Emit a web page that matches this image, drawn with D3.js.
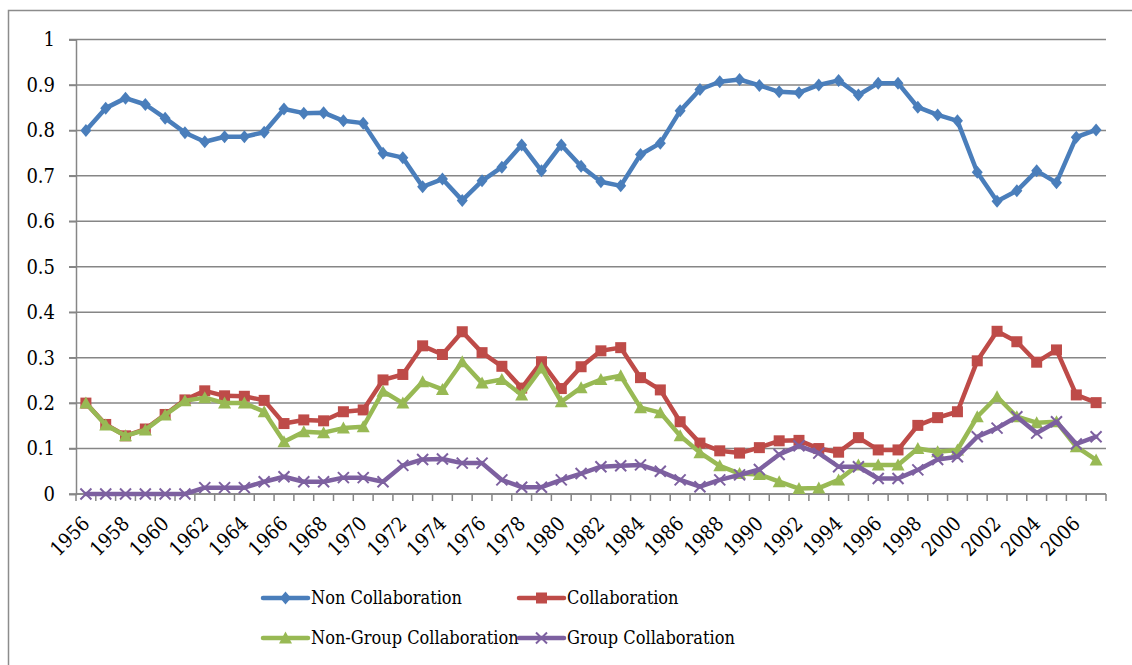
<!DOCTYPE html>
<html>
<head>
<meta charset="utf-8">
<script src="https://cdn.jsdelivr.net/npm/d3@7"></script>
<style>
  body { margin: 0; background: #fff; }
  svg text { font-family: "DejaVu Serif Condensed", "DejaVu Serif", serif; font-stretch: condensed; }
</style>
</head>
<body>
<div class="chart"></div>
<script>
// years on the category axis
var years = d3.range(1956, 2008);

var nonCollab = [0.80, 0.849, 0.871, 0.857, 0.827, 0.795, 0.775, 0.786, 0.786, 0.796,
  0.847, 0.838, 0.839, 0.821, 0.816, 0.750, 0.740, 0.676, 0.693, 0.646,
  0.689, 0.719, 0.768, 0.711, 0.768, 0.721, 0.687, 0.678, 0.747, 0.772,
  0.843, 0.890, 0.907, 0.912, 0.899, 0.885, 0.883, 0.900, 0.910, 0.878,
  0.904, 0.904, 0.851, 0.834, 0.821, 0.708, 0.644, 0.667, 0.711, 0.685,
  0.785, 0.801];
var collab = [0.20, 0.153, 0.128, 0.143, 0.175, 0.207, 0.227, 0.216, 0.215, 0.206,
  0.155, 0.163, 0.161, 0.181, 0.185, 0.251, 0.263, 0.326, 0.307, 0.357,
  0.311, 0.281, 0.233, 0.291, 0.232, 0.280, 0.315, 0.322, 0.256, 0.229,
  0.159, 0.112, 0.095, 0.090, 0.102, 0.117, 0.118, 0.100, 0.092, 0.124,
  0.097, 0.097, 0.151, 0.168, 0.181, 0.293, 0.358, 0.335, 0.290, 0.317,
  0.218, 0.201];
var nonGroupCollab = [0.20, 0.152, 0.128, 0.141, 0.174, 0.205, 0.212, 0.200, 0.200, 0.181,
  0.115, 0.137, 0.135, 0.145, 0.148, 0.226, 0.200, 0.247, 0.230, 0.291,
  0.244, 0.252, 0.218, 0.277, 0.203, 0.234, 0.252, 0.260, 0.190, 0.179,
  0.128, 0.091, 0.062, 0.045, 0.043, 0.027, 0.012, 0.013, 0.031, 0.064,
  0.064, 0.064, 0.100, 0.093, 0.097, 0.170, 0.214, 0.170, 0.157, 0.159,
  0.104, 0.075];
var groupCollab = [0, 0, 0, 0, 0, 0, 0.014, 0.014, 0.014, 0.027,
  0.038, 0.027, 0.027, 0.036, 0.036, 0.027, 0.063, 0.076, 0.077, 0.068,
  0.068, 0.031, 0.015, 0.015, 0.031, 0.045, 0.060, 0.062, 0.064, 0.050,
  0.031, 0.016, 0.031, 0.042, 0.054, 0.087, 0.106, 0.090, 0.060, 0.060,
  0.034, 0.034, 0.053, 0.076, 0.082, 0.126, 0.145, 0.170, 0.134, 0.159,
  0.110, 0.126];

var yTicks = [0, 0.1, 0.2, 0.3, 0.4, 0.5, 0.6, 0.7, 0.8, 0.9, 1];
var xLabels = years.filter(function (d) { return d % 2 === 0; });

var seriesNames = ["Non Collaboration", "Collaboration", "Non-Group Collaboration", "Group Collaboration"];
var seriesValues = [nonCollab, collab, nonGroupCollab, groupCollab];
var seriesColors = ["#4A7EBB", "#BE4B48", "#98B954", "#7D60A0"];
var seriesMarkers = ["diamond", "square", "triangle", "cross"];

var W = 1132, H = 665;
var margin = { top: 39.5, left: 76, right: 26, bottom: 171 };
var width = W - margin.left - margin.right;
var height = H - margin.top - margin.bottom;

var svg = d3.select(".chart").append("svg")
  .attr("width", W)
  .attr("height", H)
  .style("display", "block");

// outer chart border (runs off the picture on right and bottom)
svg.append("rect")
  .attr("x", 8.5).attr("y", 10.5)
  .attr("width", 1200).attr("height", 800)
  .attr("fill", "none")
  .attr("stroke", "#8c8c8c")
  .attr("stroke-width", 1.5);

var g = svg.append("g")
  .attr("transform", "translate(" + margin.left + "," + margin.top + ")");

var x = d3.scaleBand().domain(years).range([0, width]);
var y = d3.scaleLinear().domain([0, 1]).range([height, 0]);

// gridlines
g.append("g")
  .selectAll("line")
  .data(yTicks)
  .enter()
  .append("line")
  .attr("x1", -7).attr("x2", width)
  .attr("y1", function (d) { return y(d); })
  .attr("y2", function (d) { return y(d); })
  .attr("stroke", "#868686")
  .attr("stroke-width", 1.5);

// y axis
var yAxis = g.append("g")
  .call(d3.axisLeft(y).tickValues(yTicks).tickSize(7).tickPadding(14).tickFormat(function (d) { return String(d); }));
yAxis.attr("font-family", null);
yAxis.select(".domain").attr("stroke", "#868686").attr("stroke-width", 1.5);
yAxis.selectAll(".tick line").attr("stroke", "#868686").attr("stroke-width", 1.5);
yAxis.selectAll("text")
  .style("font-size", "20px")
  .attr("fill", "#000");

// x axis: ticks between categories
var xAxisG = g.append("g").attr("transform", "translate(0," + height + ")");
xAxisG.append("line")
  .attr("x1", 0).attr("x2", width)
  .attr("stroke", "#868686").attr("stroke-width", 1.5);
xAxisG.selectAll(".xt")
  .data(years.concat([2008]))
  .enter()
  .append("line")
  .attr("class", "xt")
  .attr("x1", function (d) { return d === 2008 ? width : x(d); })
  .attr("x2", function (d) { return d === 2008 ? width : x(d); })
  .attr("y1", 0).attr("y2", 7)
  .attr("stroke", "#868686").attr("stroke-width", 1.5);
xAxisG.selectAll(".xl")
  .data(xLabels)
  .enter()
  .append("text")
  .attr("class", "xl")
  .attr("transform", function (d) {
    return "translate(" + (x(d) + x.bandwidth() / 2 + 5) + ",31) rotate(-45)";
  })
  .attr("text-anchor", "end")
  .style("font-size", "20px")
  .text(function (d) { return d; });

// markers
function drawMarker(sel, type, color) {
  if (type === "diamond") {
    sel.append("path").attr("d", "M0,-6.5L5.5,0L0,6.5L-5.5,0Z").attr("fill", color);
  } else if (type === "square") {
    sel.append("rect").attr("x", -5.5).attr("y", -5.5).attr("width", 11).attr("height", 11).attr("fill", color);
  } else if (type === "triangle") {
    sel.append("path").attr("d", "M0,-6.5L6.5,5.5L-6.5,5.5Z").attr("fill", color);
  } else {
    sel.append("path").attr("d", "M-5.5,-5.5L5.5,5.5M5.5,-5.5L-5.5,5.5").attr("stroke", color).attr("stroke-width", 2);
  }
}

var line = d3.line()
  .x(function (d, i) { return x(years[i]) + x.bandwidth() / 2; })
  .y(function (d) { return y(d); });

seriesValues.forEach(function (vals, s) {
  var sg = g.append("g");
  sg.append("path")
    .datum(vals)
    .attr("d", line)
    .attr("fill", "none")
    .attr("stroke", seriesColors[s])
    .attr("stroke-width", 4.5)
    .attr("stroke-linejoin", "round")
    .attr("stroke-linecap", "round");
  sg.selectAll(".m")
    .data(vals)
    .enter()
    .append("g")
    .attr("transform", function (d, i) {
      return "translate(" + (x(years[i]) + x.bandwidth() / 2) + "," + y(d) + ")";
    })
    .each(function () { drawMarker(d3.select(this), seriesMarkers[s], seriesColors[s]); });
});

// legend
var legendPos = [[263, 598], [519, 598], [263, 638], [519, 638]];
seriesNames.forEach(function (name, s) {
  var lg = svg.append("g")
    .attr("transform", "translate(" + legendPos[s][0] + "," + legendPos[s][1] + ")");
  lg.append("line")
    .attr("x1", 0).attr("x2", 45)
    .attr("stroke", seriesColors[s])
    .attr("stroke-width", 4.5)
    .attr("stroke-linecap", "round");
  var mg = lg.append("g").attr("transform", "translate(22.5,0)");
  drawMarker(mg, seriesMarkers[s], seriesColors[s]);
  lg.append("text")
    .attr("x", 48)
    .attr("dy", "0.35em")
    .style("font-size", "18px")
    .text(name);
});
</script>
</body>
</html>
